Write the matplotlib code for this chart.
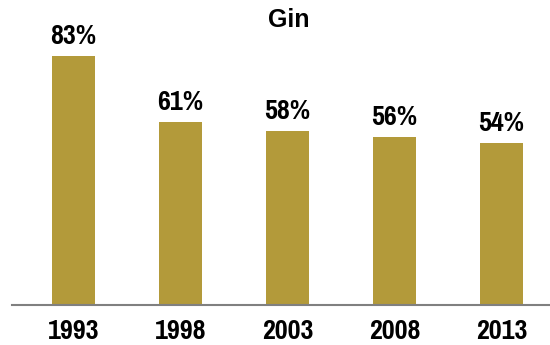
import matplotlib
matplotlib.use("Agg")
import matplotlib.pyplot as plt

years = ["1993", "1998", "2003", "2008", "2013"]
shares = [83, 61, 58, 56, 54]
title = "Gin"

bar_color = "#B39A3A"
narrow = ["Pragati Narrow", "Liberation Sans", "DejaVu Sans"]

fig = plt.figure(figsize=(5.5, 3.45), dpi=100)
W, H = 550, 345
ax = fig.add_axes([12 / W, 40 / H, 1 - 12 / W, 270 / H])

x = list(range(len(years)))
ax.bar(x, shares, width=43 / 107, color=bar_color, zorder=2)

for xi, v in zip(x, shares):
    ax.annotate(f"{v}%", (xi, v), xytext=(0, 5), textcoords="offset points",
                ha="center", va="bottom", fontsize=22, fontweight="bold",
                family=narrow)

ax.set_xlim((12 - 73.5) / 107, (550 - 73.5) / 107)
ax.set_ylim(0, 90)
ax.set_xticks(x)
ax.set_xticklabels(years, fontsize=22, fontweight="bold", family=narrow)
ax.tick_params(axis="x", length=0, pad=10)
ax.set_yticks([])
for s in ["top", "right", "left"]:
    ax.spines[s].set_visible(False)
ax.spines["bottom"].set_color("#808080")
ax.spines["bottom"].set_linewidth(1.5)

fig.text(288.5 / W, 1 - 20 / H, title, ha="center", va="center",
         fontsize=18, fontweight="heavy", family=["Liberation Sans", "DejaVu Sans"])

fig.savefig("out.png", dpi=100)
